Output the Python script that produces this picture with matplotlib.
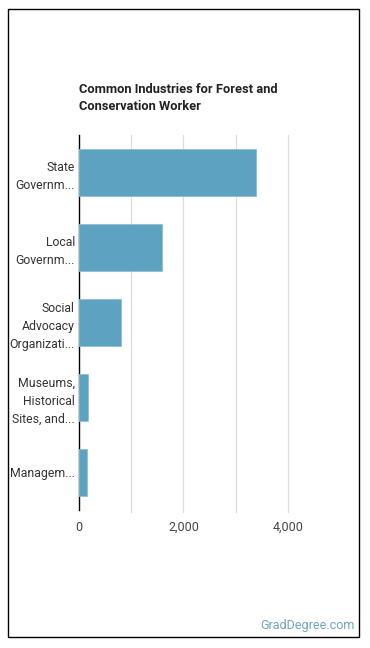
import matplotlib
matplotlib.use("Agg")
import matplotlib.pyplot as plt
from matplotlib.patches import Rectangle

categories = ["State\nGovernm...", "Local\nGovernm...", "Social\nAdvocacy\nOrganizati...",
              "Museums,\nHistorical\nSites, and...", "Managem..."]
values = [3400, 1590, 800, 175, 155]
xticks = [0, 2000, 4000]
xticklabels = ["0", "2,000", "4,000"]
title = "Common Industries for Forest and\nConservation Worker"

plt.rcParams['font.family'] = ['Roboto', 'DejaVu Sans']

fig = plt.figure(figsize=(3.7, 6.48), dpi=100)
fig.patches.append(Rectangle((8/370, 1-637/648), 351/370, 628/648, transform=fig.transFigure,
                             fill=False, edgecolor='black', linewidth=1.0))

ax = fig.add_axes([79/370, 1-510/648, (340-79)/370, 375/648])
y = list(range(len(categories)))
ax.barh(y, values, height=0.62, color='#5DA3C1', edgecolor='#8cc0d6', linewidth=0.6, zorder=3)
ax.set_ylim(len(categories)-0.5, -0.5)
ax.set_xlim(0, 5000)
ax.set_yticks(y)
ax.set_yticklabels(categories, fontsize=8.8, color='#333333', linespacing=1.5)
ax.set_xticks(xticks)
ax.set_xticklabels(xticklabels, fontsize=9, color='#444444')
ax.set_xticks([1000, 3000], minor=True)
ax.tick_params(axis='y', length=0, pad=3)
ax.tick_params(axis='x', which='both', length=0, pad=8)
for v in [1000, 2000, 3000, 4000]:
    ax.axvline(v, color='#dddddd', linewidth=0.9, zorder=1, ymin=-0.006, clip_on=False)
for s in ['top', 'right', 'bottom']:
    ax.spines[s].set_visible(False)
ax.spines['left'].set_color('black')
ax.spines['left'].set_linewidth(1.0)
ax.set_facecolor('none')

fig.text(79/370, 1-83/648, title, fontsize=9.3, fontweight='bold', color='#222222',
         ha='left', va='top', linespacing=1.45)
fig.text(355/370, 1-626/648, "GradDegree.com", fontsize=9, color='#6fa4c0', ha='right', va='center')

fig.savefig("out.png", dpi=100)
